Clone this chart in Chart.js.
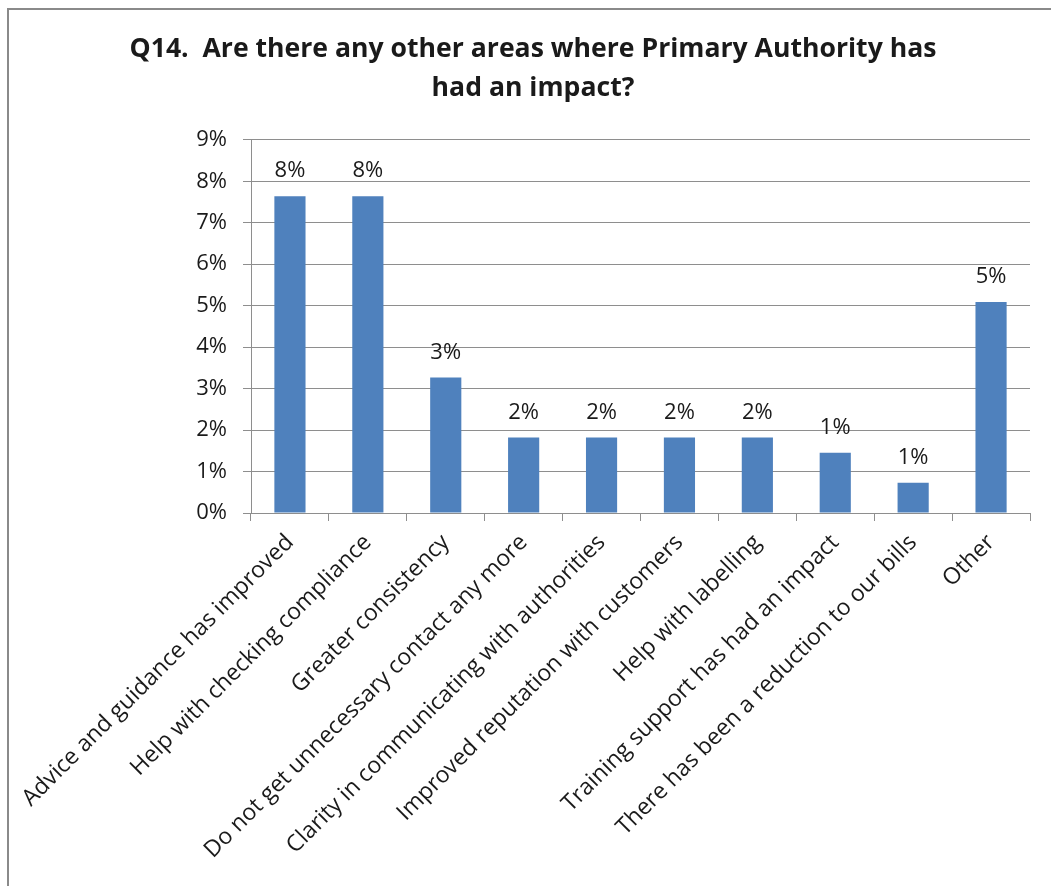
<!DOCTYPE html>
<html>
<head>
<meta charset="utf-8">
<script src="https://cdn.jsdelivr.net/npm/chart.js@4"></script>
<style>
  html, body { margin: 0; padding: 0; background: #fff; overflow: hidden; }
  body { width: 1051px; height: 886px; position: relative; }
  #frame {
    position: absolute; left: 7px; top: 8px;
    border-left: 2px solid #8a8a8a; border-top: 2px solid #8a8a8a;
    width: 1050px; height: 876px;
  }
  #frame canvas { display: block; }
</style>
</head>
<body>
<div id="frame"><canvas id="chart" width="1050" height="876"></canvas></div>
<script>
// Q14 responses, share of respondents (%)
const categories = [
  'Advice and guidance has improved',
  'Help with checking compliance',
  'Greater consistency',
  'Do not get unnecessary contact any more',
  'Clarity in communicating with authorities',
  'Improved reputation with customers',
  'Help with labelling',
  'Training support has had an impact',
  'There has been a reduction to our bills',
  'Other'
];
const shares = [7.64, 7.64, 3.27, 1.82, 1.82, 1.82, 1.82, 1.45, 0.73, 5.09];
const yTicks = [0, 1, 2, 3, 4, 5, 6, 7, 8, 9];

const FONT = 'Open Sans, sans-serif';
const GRID = '#8e8e8e';
const INK = '#1a1a1a';

// value labels above each bar, rounded like the axis
const barLabels = {
  id: 'barLabels',
  afterDatasetsDraw(chart) {
    const ctx = chart.ctx;
    const meta = chart.getDatasetMeta(0);
    ctx.save();
    ctx.font = '22px ' + FONT;
    ctx.fillStyle = INK;
    ctx.textAlign = 'center';
    ctx.textBaseline = 'middle';
    meta.data.forEach((bar, i) => {
      ctx.fillText(Math.round(shares[i]) + '%', bar.x, bar.y - 25);
    });
    ctx.restore();
  }
};

new Chart(document.getElementById('chart'), {
  type: 'bar',
  data: {
    labels: categories,
    datasets: [{
      data: shares,
      backgroundColor: '#4f81bd',
      categoryPercentage: 1,
      barPercentage: 0.4
    }]
  },
  options: {
    responsive: false,
    animation: false,
    layout: { padding: { left: 27, right: 29, top: 0, bottom: 0 } },
    plugins: {
      legend: { display: false },
      tooltip: { enabled: false },
      title: {
        display: true,
        text: ['Q14.  Are there any other areas where Primary Authority has', 'had an impact?'],
        color: INK,
        font: { family: FONT, size: 26.6, weight: 'bold', lineHeight: 1.5 },
        padding: { top: 19, bottom: 31 }
      }
    },
    scales: {
      x: {
        grid: { drawOnChartArea: false, drawTicks: true, tickLength: 8, color: GRID, offset: true },
        border: { color: GRID },
        ticks: {
          color: INK, font: { family: FONT, size: 23 },
          minRotation: 45, maxRotation: 45, autoSkip: false, padding: 8
        },
        afterFit: s => { s.height = 373; s.paddingLeft = 0; s.paddingRight = 0; }
      },
      y: {
        min: 0, max: 9,
        afterBuildTicks: s => { s.ticks = yTicks.map(v => ({ value: v })); },
        grid: { color: GRID, tickLength: 8 },
        border: { color: GRID },
        ticks: {
          color: INK, font: { family: FONT, size: 22 }, padding: 16,
          callback: v => v + '%'
        },
        afterFit: s => { s.width = 215; }
      }
    }
  },
  plugins: [barLabels]
});
</script>
</body>
</html>
